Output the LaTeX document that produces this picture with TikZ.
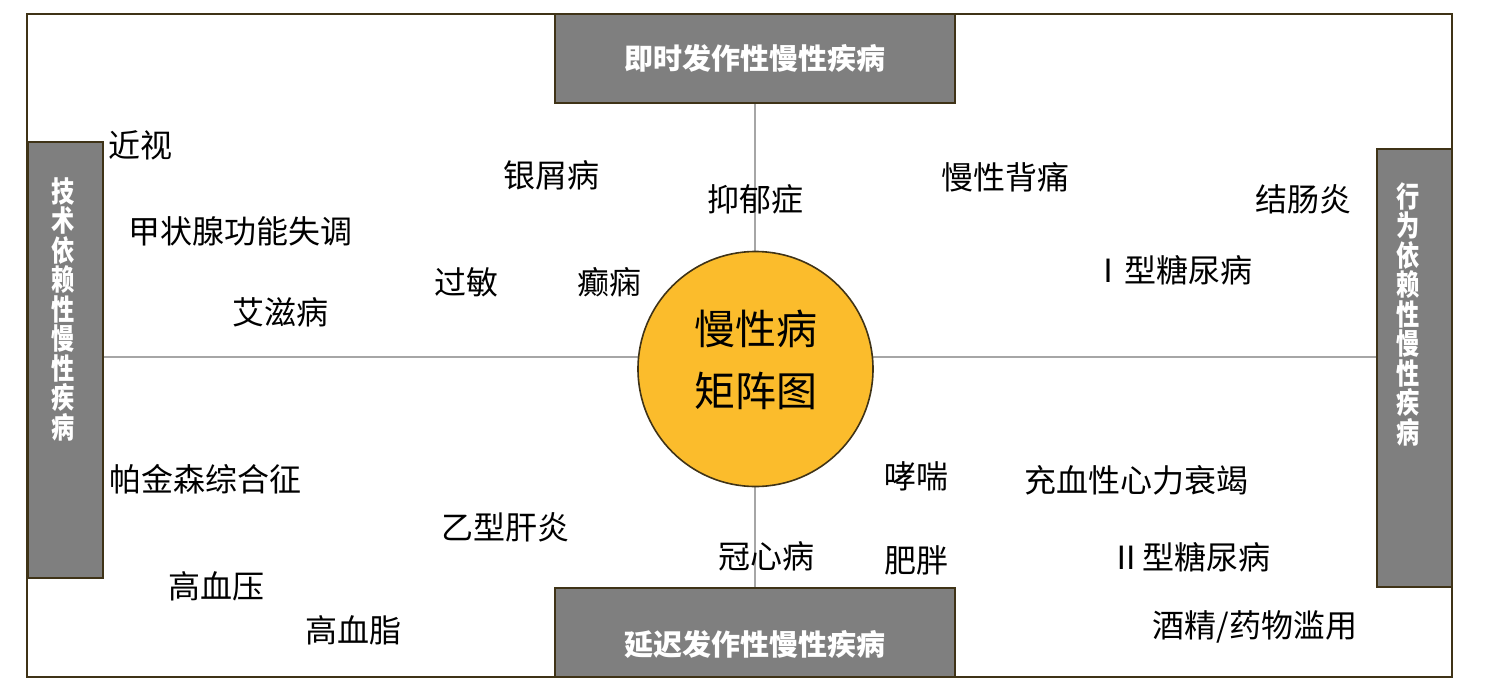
\documentclass[tikz,border=0pt]{standalone}
\usepackage{fontspec}
\setmainfont{Noto Sans CJK SC}
\usetikzlibrary{positioning}
\definecolor{cframe}{HTML}{3F3317}
\definecolor{cbox}{HTML}{7F7F7F}
\definecolor{cgold}{HTML}{FBBC2C}
\definecolor{cline}{HTML}{A6A6A6}
\tikzset{
  every picture/.style={x=1pt, y=1pt},
  axisbox/.style={draw=cframe, fill=cbox, line width=2pt, text=white, font=\fontsize{29}{29.5}\selectfont\bfseries, inner sep=0pt},
  sidetext/.style={text=white, font=\fontsize{29}{29.5}\selectfont\bfseries, inner sep=0pt, anchor=north, align=center, xscale=0.8, transform shape},
  lbl/.style={font=\fontsize{32}{34}\selectfont, inner sep=0pt},
  hub/.style={circle, draw=cframe, fill=cgold, line width=1.6pt, minimum size=235pt},
  hubtext/.style={align=center, font=\fontsize{41}{62}\selectfont, inner sep=0pt},
  axis/.style={draw=cline, line width=1.5pt},
}

\begin{document}
\begin{tikzpicture}
  \useasboundingbox (0,0) rectangle (1486,-694);
  % outer frame
  \draw[cframe, line width=2pt] (27,-14) rectangle (1452,-677);
  % four axis boxes
  \node[axisbox, minimum width=400pt, minimum height=89pt] (tbox) at (755,-58.5) {即时发作性慢性疾病};
  \node[axisbox, minimum width=400pt, minimum height=89pt] (bbox) at (755,-632.5) {};
  \node[axisbox, draw=none, fill=none] (btxt) at (755,-644) {延迟发作性慢性疾病};
  \node[axisbox, minimum width=75pt, minimum height=436pt] (lbox) at (65.5,-360) {};
  \node[axisbox, minimum width=75pt, minimum height=438pt] (rbox) at (1414.5,-368) {};
  \node[sidetext] (ltxt) at (63,-177) {技\\术\\依\\赖\\性\\慢\\性\\疾\\病};
  \node[sidetext] (rtxt) at (1408,-182) {行\\为\\依\\赖\\性\\慢\\性\\疾\\病};
  % cross
  \coordinate (ctr) at (755,-357);
  \draw[axis] (tbox.south) -- (bbox.north);
  \draw[axis] (ctr -| lbox.east) -- (ctr -| rbox.west);
  \node[hub] (core) at (755.5,-369) {};
  \node[hubtext] (coretxt) at (755.5,-360) {慢性病\\矩阵图};
  % upper half
  \foreach \n/\x/\y/\t in {myopia/140/145/近视, thyroid/240/231/甲状腺功能失调, aids/280/312/艾滋病,
    psoriasis/551/175/银屑病, allergy/466/282/过敏, epilepsy/609/282/癫痫, depression/755/199/抑郁症,
    backpain/1005/177/慢性背痛, colitis/1303/199/结肠炎, diabI/1172/270/Ⅰ型糖尿病}
    \node[lbl] (\n) at (\x,-\y) {\t};
  % lower half
  \foreach \n/\x/\y/\t in {parkinson/205/479/帕金森综合征, hepb/505/527/乙型肝炎, hyper/216/586/高血压,
    lipid/353/630/高血脂, chd/766/556/冠心病, asthma/916/476/哮喘, obesity/916/560/肥胖,
    chf/1136/480/充血性心力衰竭, diabII/1190/557/Ⅱ型糖尿病}
    \node[lbl] (\n) at (\x,-\y) {\t};
  \node[lbl] (abuse) at (1255,-627) {酒精/药物滥用};
\end{tikzpicture}
\end{document}
